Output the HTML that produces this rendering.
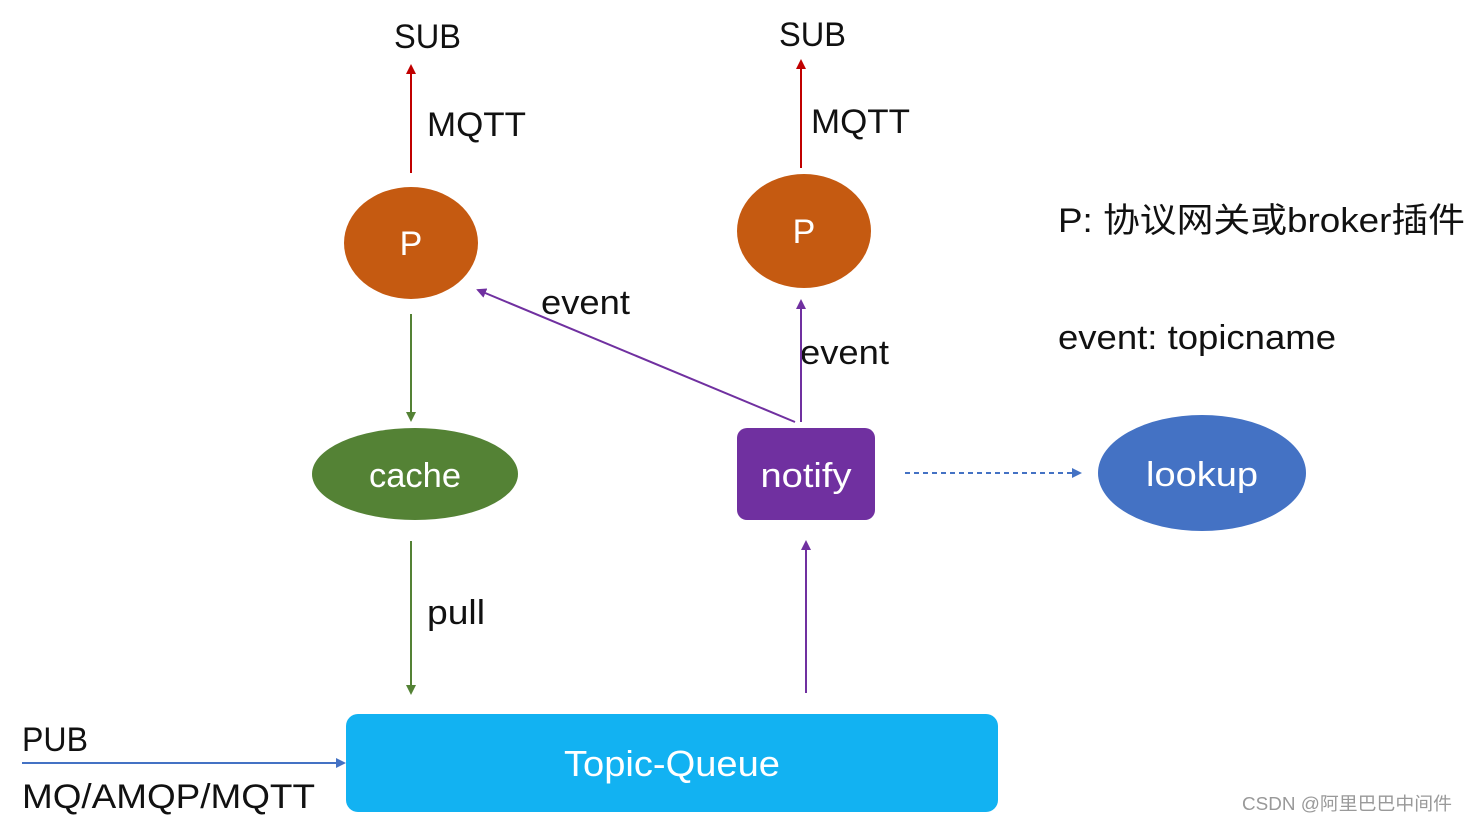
<!DOCTYPE html>
<html><head><meta charset="utf-8"><style>
body{margin:0;background:#fff;}
svg text{font-family:"Liberation Sans","Noto Sans CJK SC",sans-serif;}
</style></head><body>
<svg width="1468" height="822" viewBox="0 0 1468 822" xmlns="http://www.w3.org/2000/svg">
<defs>
<marker id="ar" markerWidth="10" markerHeight="10" refX="8" refY="5" orient="auto" markerUnits="userSpaceOnUse"><path d="M0,0 L10,5 L0,10 z" fill="#c00000"/></marker>
<marker id="ag" markerWidth="10" markerHeight="10" refX="8" refY="5" orient="auto" markerUnits="userSpaceOnUse"><path d="M0,0 L10,5 L0,10 z" fill="#548235"/></marker>
<marker id="ap" markerWidth="10" markerHeight="10" refX="8" refY="5" orient="auto" markerUnits="userSpaceOnUse"><path d="M0,0 L10,5 L0,10 z" fill="#7030a0"/></marker>
<marker id="ab" markerWidth="10" markerHeight="10" refX="8" refY="5" orient="auto" markerUnits="userSpaceOnUse"><path d="M0,0 L10,5 L0,10 z" fill="#4472c4"/></marker>
</defs>
<g font-size="34" fill="#111">
<text x="394" y="48" textLength="67" lengthAdjust="spacingAndGlyphs">SUB</text>
<text x="779" y="46" textLength="67" lengthAdjust="spacingAndGlyphs">SUB</text>
<text x="427" y="136" textLength="99" lengthAdjust="spacingAndGlyphs">MQTT</text>
<text x="811" y="133" textLength="99" lengthAdjust="spacingAndGlyphs">MQTT</text>
<text x="541" y="314" textLength="89" lengthAdjust="spacingAndGlyphs">event</text>
<text x="800" y="364" textLength="89" lengthAdjust="spacingAndGlyphs">event</text>
<text x="427" y="624" textLength="58" lengthAdjust="spacingAndGlyphs">pull</text>
<text x="22" y="751" textLength="66" lengthAdjust="spacingAndGlyphs">PUB</text>
<text x="22" y="808" textLength="293" lengthAdjust="spacingAndGlyphs">MQ/AMQP/MQTT</text>
<text x="1058" y="232" textLength="407" lengthAdjust="spacingAndGlyphs">P: 协议网关或broker插件</text>
<text x="1058" y="349" textLength="278" lengthAdjust="spacingAndGlyphs">event: topicname</text>
</g>
<line x1="411" y1="173" x2="411" y2="66" stroke="#c00000" stroke-width="2" marker-end="url(#ar)"/>
<line x1="801" y1="168" x2="801" y2="61" stroke="#c00000" stroke-width="2" marker-end="url(#ar)"/>
<ellipse cx="411" cy="243" rx="67" ry="56" fill="#c55a11"/>
<ellipse cx="804" cy="231" rx="67" ry="57" fill="#c55a11"/>
<text x="411" y="255" font-size="34" fill="#fff" text-anchor="middle">P</text>
<text x="804" y="243" font-size="34" fill="#fff" text-anchor="middle">P</text>
<line x1="411" y1="314" x2="411" y2="420" stroke="#548235" stroke-width="2" marker-end="url(#ag)"/>
<ellipse cx="415" cy="474" rx="103" ry="46" fill="#548235"/>
<text x="415" y="487" font-size="34" fill="#fff" text-anchor="middle" textLength="92" lengthAdjust="spacingAndGlyphs">cache</text>
<line x1="411" y1="541" x2="411" y2="693" stroke="#548235" stroke-width="2" marker-end="url(#ag)"/>
<line x1="795" y1="422" x2="478" y2="290" stroke="#7030a0" stroke-width="2" marker-end="url(#ap)"/>
<line x1="801" y1="422" x2="801" y2="301" stroke="#7030a0" stroke-width="2" marker-end="url(#ap)"/>
<line x1="806" y1="693" x2="806" y2="542" stroke="#7030a0" stroke-width="2" marker-end="url(#ap)"/>
<rect x="737" y="428" width="138" height="92" rx="10" fill="#7030a0"/>
<text x="806" y="487" font-size="34" fill="#fff" text-anchor="middle" textLength="91" lengthAdjust="spacingAndGlyphs">notify</text>
<line x1="905" y1="473" x2="1080" y2="473" stroke="#4472c4" stroke-width="2" stroke-dasharray="5,4" marker-end="url(#ab)"/>
<ellipse cx="1202" cy="473" rx="104" ry="58" fill="#4472c4"/>
<text x="1202" y="486" font-size="34" fill="#fff" text-anchor="middle" textLength="112" lengthAdjust="spacingAndGlyphs">lookup</text>
<rect x="346" y="714" width="652" height="98" rx="12" fill="#12b2f2"/>
<text x="672" y="776" font-size="36" fill="#fff" text-anchor="middle" textLength="216" lengthAdjust="spacingAndGlyphs">Topic-Queue</text>
<line x1="22" y1="763" x2="344" y2="763" stroke="#4472c4" stroke-width="2" marker-end="url(#ab)"/>
<text x="1242" y="810" font-size="18" fill="#999" textLength="210" lengthAdjust="spacingAndGlyphs">CSDN @阿里巴巴中间件</text>
</svg>
</body></html>
